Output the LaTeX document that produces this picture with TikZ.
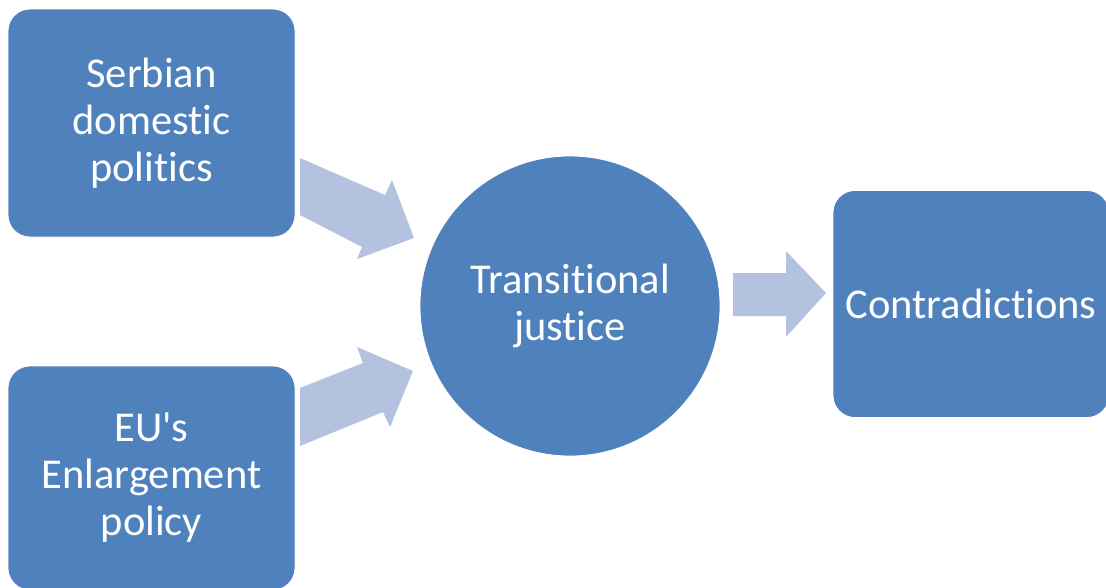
\documentclass[tikz,border=0pt]{standalone}
\usepackage{fontspec}
\setmainfont[Ligatures={TeXOff,NoCommon}]{Carlito}
\definecolor{boxblue}{HTML}{4F81BD}
\definecolor{arrowblue}{HTML}{B3C2DF}
\begin{document}
\begin{tikzpicture}[x=1pt,y=-1pt,
  box/.style={draw=white, line width=0.8pt, fill=boxblue, rounded corners=22pt,
    text=white, align=center, font=\fontsize{42.5}{47}\selectfont, inner sep=0pt},
  blockarrow/.style={fill=arrowblue, draw=none}]
\useasboundingbox (0,0) rectangle (1106,587);
\node[box, minimum width=287pt, minimum height=228pt] (serb) at (151.5,123) {Serbian\\domestic\\politics};
\node[box, minimum width=287pt, minimum height=224pt] (eu) at (151.5,478) {EU's\\Enlargement\\policy};
\node[box, circle, minimum size=300pt] (tj) at (570,306) {Transitional\\justice};
\node[box, minimum width=276pt, minimum height=227pt] (con) at (971,304) {Contradictions};
% block arrows
\fill[blockarrow] (300,158) -- (385,195) -- (392,180) -- (414,238) -- (357,259) -- (362,247) -- (300,215) -- cycle;
\fill[blockarrow] (300,388) -- (363,363) -- (357,347) -- (413,371) -- (390,427) -- (383,412) -- (300,446) -- cycle;
\fill[blockarrow] (733,273) -- (786,273) -- (786,251) -- (826,293) -- (786,337) -- (786,316) -- (733,316) -- cycle;
\end{tikzpicture}
\end{document}
